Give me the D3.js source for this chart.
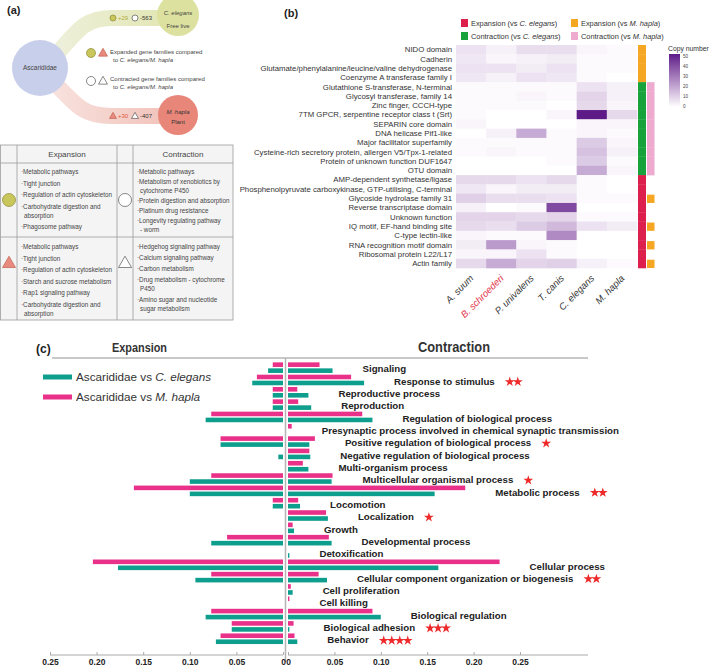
<!DOCTYPE html>
<html lang="en">
<head>
<meta charset="UTF-8">
<title>Gene family expansion and contraction</title>
<script src="https://cdn.jsdelivr.net/npm/d3@7"></script>
<style>
    * { margin: 0; padding: 0; }
    body { background: #fff; }
    text { font-family: "Liberation Sans", Arial, sans-serif; }
</style>
</head>
<body>
<div id="chart"></div>
<script>
// ---------- panel (a) data ----------
const ceExpandedCount = 29;
const ceContractedCount = 563;
const mhExpandedCount = 30;
const mhContractedCount = 407;

const expCircleTerms = ['·Metabolic pathways', '·Tight junction', '·Regulation of actin cytoskeleton',
    '·Carbohydrate digestion and', ' absorption', '·Phagosome pathway'];
const conCircleTerms = ['·Metabolic pathways', '·Metabolism of xenobiotics by', ' cytochrome P450',
    '·Protein digestion and absorption', '·Platinum drug resistance', '·Longevity regulating pathway', ' - worm'];
const expTriangleTerms = ['·Metabolic pathways', '·Tight junction', '·Regulation of actin cytoskeleton',
    '·Starch and sucrose metabolism', '·Rap1 signaling pathway', '·Carbohydrate digestion and', ' absorption'];
const conTriangleTerms = ['·Hedgehog signaling pathway', '·Calcium signaling pathway', '·Carbon metabolism',
    '·Drug metabolism - cytochrome', ' P450', '·Amino sugar and nucleotide', ' sugar metabolism'];

// ---------- panel (b) data ----------
const domains = ['NIDO domain', 'Cadherin', 'Glutamate/phenylalanine/leucine/valine dehydrogenase',
    'Coenzyme A transferase family I', 'Glutathione S-transferase, N-terminal', 'Glycosyl transferase, family 14',
    'Zinc finger, CCCH-type', '7TM GPCR, serpentine receptor class t (Srt)', 'SEPARIN core domain',
    'DNA helicase Pif1-like', 'Major facilitator superfamily', 'Cysteine-rich secretory protein, allergen V5/Tpx-1-related',
    'Protein of unknown function DUF1647', 'OTU domain', 'AMP-dependent synthetase/ligase',
    'Phosphenolpyruvate carboxykinase, GTP-utilising, C-terminal', 'Glycoside hydrolase family 31',
    'Reverse transcriptase domain', 'Unknown function', 'IQ motif, EF-hand binding site', 'C-type lectin-like',
    'RNA recognition motif domain', 'Ribosomal protein L22/L17', 'Actin family'];
const species = ['A. suum', 'B. schroederi', 'P. univalens', 'T. canis', 'C. elegans', 'M. hapla'];
// copy number per domain, in species order
const copyNumber = [
    [6, 3, 7, 7, 2, 1],
    [5, 2, 3, 4, 1, 1],
    [6, 6, 4, 6, 1, 1],
    [5, 3, 6, 5, 1, 0],
    [1, 1, 1, 1, 6, 3],
    [1, 1, 2, 1, 9, 3],
    [1, 1, 1, 0, 8, 2],
    [1, 0, 0, 2, 50, 8],
    [2, 0, 0, 0, 2, 2],
    [0, 3, 18, 1, 2, 1],
    [1, 1, 1, 1, 11, 2],
    [1, 2, 1, 1, 13, 3],
    [0, 0, 0, 1, 11, 1],
    [0, 0, 0, 0, 18, 2],
    [8, 8, 6, 8, 1, 0],
    [5, 2, 4, 4, 1, 0],
    [10, 7, 7, 6, 1, 1],
    [3, 0, 1, 40, 0, 0],
    [9, 9, 8, 9, 1, 1],
    [8, 7, 11, 15, 6, 4],
    [2, 1, 1, 25, 0, 0],
    [4, 22, 2, 1, 0, 0],
    [2, 2, 6, 1, 0, 0],
    [8, 18, 9, 10, 3, 1]
];
const annotFirst = ['expM', 'expM', 'expM', 'expM', 'conC', 'conC', 'conC', 'conC', 'conC', 'conC', 'conC', 'conC',
    'conC', 'conC', 'expC', 'expC', 'expC', 'expC', 'expC', 'expC', 'expC', 'expC', 'expC', 'expC'];
const annotSecond = ['', '', '', '', 'conM', 'conM', 'conM', 'conM', 'conM', 'conM', 'conM', 'conM',
    'conM', 'conM', '', '', 'expM', '', '', 'expM', '', 'expM', '', 'expM'];
const annotKeys = ['expC', 'conC', 'expM', 'conM'];
const annotNames = [['Expansion (vs ', 'C. elegans', ')'], ['Contraction (vs ', 'C. elegans', ')'],
    ['Expansion (vs ', 'M. hapla', ')'], ['Contraction (vs ', 'M. hapla', ')']];
const copyTicks = [0, 10, 20, 30, 40, 50];

// ---------- panel (c) data ----------
const goTerms = ['Signaling', 'Response to stimulus', 'Reproductive process', 'Reproduction',
    'Regulation of biological process', 'Presynaptic process involved in chemical synaptic transmission',
    'Positive regulation of biological process', 'Negative regulation of biological process',
    'Multi-organism process', 'Multicellular organismal process', 'Metabolic process', 'Locomotion',
    'Localization', 'Growth', 'Developmental process', 'Detoxification', 'Cellular process',
    'Cellular component organization or biogenesis', 'Cell proliferation', 'Cell killing',
    'Biological regulation', 'Biological adhesion', 'Behavior'];
const mhExpansion = [0.011, 0.028, 0.011, 0.011, 0.077, 0, 0.067, 0, 0, 0.077, 0.160, 0.011, 0, 0, 0.060, 0,
    0.204, 0.077, 0, 0, 0.077, 0.055, 0.067];
const ceExpansion = [0.016, 0.033, 0.011, 0.011, 0.083, 0, 0.067, 0.005, 0, 0.100, 0.100, 0.011, 0, 0, 0.077, 0,
    0.177, 0.094, 0, 0, 0.083, 0.055, 0.072];
const mhContraction = [0.034, 0.068, 0.010, 0.011, 0.080, 0.004, 0.029, 0.023, 0.016, 0.048, 0.191, 0.011, 0.041,
    0.005, 0.044, 0, 0.228, 0.033, 0.003, 0.0015, 0.091, 0.006, 0.007];
const ceContraction = [0.048, 0.082, 0.022, 0.025, 0.091, 0, 0.023, 0.024, 0.022, 0.047, 0.158, 0.013, 0.043,
    0.0065, 0.047, 0.0015, 0.162, 0.042, 0.005, 0, 0.100, 0.0015, 0.010];
const starCounts = [0, 2, 0, 0, 0, 0, 1, 0, 0, 1, 2, 0, 1, 0, 0, 0, 0, 2, 0, 0, 0, 3, 4];
const axisTicks = [0, 0.05, 0.10, 0.15, 0.20, 0.25];

const pink = '#e9318a';
const teal = '#0e9e8e';
const annotColor = { expC: '#dc1f4c', conC: '#18a23c', expM: '#f5a623', conM: '#eeaacf' };

const svg = d3.select('#chart').append('svg')
    .attr('width', 709)
    .attr('height', 667);
const defs = svg.append('defs');

// ================= panel (a) =================
const pa = svg.append('g');
pa.append('text').attr('x', 7).attr('y', 14).text('(a)')
    .attr('font-size', '11px').attr('font-weight', 'bold').attr('fill', '#222');

function ribbonGradient(id, c0, c1) {
    const g = defs.append('linearGradient').attr('id', id).attr('x1', 0).attr('x2', 1).attr('y1', 0).attr('y2', 0);
    g.append('stop').attr('offset', 0).attr('stop-color', c0);
    g.append('stop').attr('offset', 1).attr('stop-color', c1);
}
ribbonGradient('ribGreen', '#eef0dc', '#e2e6b2');
ribbonGradient('ribPink', '#f8e2de', '#f1c2b9');

pa.append('path').attr('d', 'M50,62 C78,30 84,18 112,18 L172,18')
    .attr('fill', 'none').attr('stroke', 'url(#ribGreen)').attr('stroke-width', 16);
pa.append('path').attr('d', 'M50,78 C78,108 84,116 112,116 L172,116')
    .attr('fill', 'none').attr('stroke', 'url(#ribPink)').attr('stroke-width', 16);

pa.append('circle').attr('cx', 40).attr('cy', 68).attr('r', 28).attr('fill', '#c8cfea');
pa.append('text').attr('x', 40).attr('y', 70).attr('text-anchor', 'middle')
    .attr('font-size', '6.5px').attr('fill', '#444').text('Ascarididae');

pa.append('circle').attr('cx', 178).attr('cy', 15).attr('r', 21).attr('fill', '#dde1a0');
pa.append('text').attr('x', 178).attr('y', 15).attr('text-anchor', 'middle')
    .attr('font-size', '6px').attr('font-style', 'italic').attr('fill', '#444').text('C. elegans');
pa.append('text').attr('x', 178).attr('y', 28).attr('text-anchor', 'middle')
    .attr('font-size', '6px').attr('fill', '#444').text('Free live');

pa.append('circle').attr('cx', 178).attr('cy', 115).attr('r', 20).attr('fill', '#e8867a');
pa.append('text').attr('x', 178).attr('y', 114).attr('text-anchor', 'middle')
    .attr('font-size', '6px').attr('font-style', 'italic').attr('fill', '#333').text('M. hapla');
pa.append('text').attr('x', 178).attr('y', 124).attr('text-anchor', 'middle')
    .attr('font-size', '6px').attr('fill', '#333').text('Plant');

function drawCircle(g, cx, cy, r, filled) {
    g.append('circle').attr('cx', cx).attr('cy', cy).attr('r', r)
        .attr('fill', filled ? '#c9c65c' : '#fff')
        .attr('stroke', filled ? '#8d8a34' : '#555').attr('stroke-width', 0.7);
}
function drawTriangle(g, cx, cy, s, filled) {
    const h = s * 0.87;
    g.append('path')
        .attr('d', `M${cx},${cy - h * 0.6}L${cx + s / 2},${cy + h * 0.4}L${cx - s / 2},${cy + h * 0.4}Z`)
        .attr('fill', filled ? '#e88a7e' : '#fff')
        .attr('stroke', filled ? '#c0624f' : '#555').attr('stroke-width', 0.7);
}

drawCircle(pa, 113, 18, 3, true);
pa.append('text').attr('x', 118).attr('y', 20).attr('font-size', '6px').attr('fill', '#b0ad3a').text('+' + ceExpandedCount);
drawCircle(pa, 135, 18, 3, false);
pa.append('text').attr('x', 140).attr('y', 20).attr('font-size', '6px').attr('fill', '#333').text('-' + ceContractedCount);

drawTriangle(pa, 113, 116, 7, true);
pa.append('text').attr('x', 118).attr('y', 118).attr('font-size', '6px').attr('fill', '#e4553f').text('+' + mhExpandedCount);
drawTriangle(pa, 135, 116, 7, false);
pa.append('text').attr('x', 140).attr('y', 118).attr('font-size', '6px').attr('fill', '#333').text('-' + mhContractedCount);

drawCircle(pa, 91, 53, 4.5, true);
drawTriangle(pa, 103, 53, 9, true);
pa.append('text').attr('x', 110).attr('y', 54).attr('font-size', '6px').attr('fill', '#444').text('Expanded gene families compared');
pa.append('text').attr('x', 113).attr('y', 62).attr('font-size', '6px').attr('fill', '#444')
    .call(t => { t.append('tspan').text('to '); t.append('tspan').attr('font-style', 'italic').text('C. elegans/M. hapla'); });

drawCircle(pa, 91, 81, 4.5, false);
drawTriangle(pa, 103, 81, 9, false);
pa.append('text').attr('x', 110).attr('y', 81).attr('font-size', '6px').attr('fill', '#444').text('Contracted gene families compared');
pa.append('text').attr('x', 113).attr('y', 89).attr('font-size', '6px').attr('fill', '#444')
    .call(t => { t.append('tspan').text('to '); t.append('tspan').attr('font-style', 'italic').text('C. elegans/M. hapla'); });

// table
const tb = pa.append('g');
tb.append('rect').attr('x', 0.5).attr('y', 145).attr('width', 232.5).attr('height', 175)
    .attr('fill', '#f4f4f4').attr('stroke', '#9c9c9c').attr('stroke-width', 0.8);
[17, 117, 133].forEach(x => tb.append('line').attr('x1', x).attr('x2', x).attr('y1', 145).attr('y2', 320)
    .attr('stroke', '#9c9c9c').attr('stroke-width', 0.8));
[163, 237].forEach(y => tb.append('line').attr('x1', 0.5).attr('x2', 233).attr('y1', y).attr('y2', y)
    .attr('stroke', '#9c9c9c').attr('stroke-width', 0.8));
tb.append('text').attr('x', 67).attr('y', 157).attr('text-anchor', 'middle').attr('font-size', '8px').attr('fill', '#444').text('Expansion');
tb.append('text').attr('x', 183).attr('y', 157).attr('text-anchor', 'middle').attr('font-size', '8px').attr('fill', '#444').text('Contraction');

drawCircle(tb, 9, 200, 6.5, true);
drawCircle(tb, 125, 200, 6.5, false);
drawTriangle(tb, 9, 263, 13, true);
drawTriangle(tb, 125, 263, 13, false);

function termList(lines, x, y0, bulletStep, contStep) {
    let y = y0;
    lines.forEach((line, i) => {
        if (i > 0) y += line.startsWith(' ') ? contStep : bulletStep;
        tb.append('text').attr('x', line.startsWith(' ') ? x + 3 : x).attr('y', y).attr('dy', '0.35em')
            .attr('font-size', '6.3px').attr('fill', '#444').text(line.trim());
    });
}
termList(expCircleTerms, 21, 172, 11.5, 9);
termList(conCircleTerms, 137, 172, 10, 9);
termList(expTriangleTerms, 21, 247, 11.5, 9);
termList(conTriangleTerms, 137, 247, 11, 9);

// ================= panel (b) =================
const pb = svg.append('g');
pb.append('text').attr('x', 284).attr('y', 17).text('(b)')
    .attr('font-size', '11px').attr('font-weight', 'bold').attr('fill', '#222');

const hx = d3.scaleBand().domain(species).range([456, 637]);
const hy = d3.scaleBand().domain(domains).range([45, 268]);
const heatColor = d3.scaleLinear().domain([0, 50]).range(['#ffffff', '#5e1b88']).interpolate(d3.interpolateLab);

domains.forEach((dom, r) => {
    species.forEach((sp, c) => {
        pb.append('rect')
            .attr('x', hx(sp)).attr('y', hy(dom))
            .attr('width', hx.bandwidth() + 0.3).attr('height', hy.bandwidth() + 0.3)
            .attr('fill', heatColor(copyNumber[r][c]));
    });
});

pb.selectAll('.rowlab').data(domains).enter().append('text')
    .attr('x', 452).attr('y', d => hy(d) + hy.bandwidth() / 2).attr('dy', '0.35em')
    .attr('text-anchor', 'end').attr('font-size', '7.8px').attr('fill', '#333').text(d => d);

pb.selectAll('.collab').data(species).enter().append('text')
    .attr('text-anchor', 'end')
    .attr('transform', d => `translate(${hx(d) + hx.bandwidth() / 2 + 3},279) rotate(-45)`)
    .attr('font-size', '9.5px').attr('font-style', 'italic')
    .attr('fill', d => d === 'B. schroederi' ? '#e2344b' : '#333').text(d => d);

// side annotation bars
domains.forEach((dom, r) => {
    if (annotFirst[r]) pb.append('rect').attr('x', 638).attr('y', hy(dom)).attr('width', 8)
        .attr('height', hy.bandwidth() + 0.3).attr('fill', annotColor[annotFirst[r]]);
    if (annotSecond[r]) pb.append('rect').attr('x', 647).attr('y', hy(dom) + (annotSecond[r] === 'expM' ? 1 : 0)).attr('width', 7.5)
        .attr('height', hy.bandwidth() + (annotSecond[r] === 'expM' ? -1 : 0.3)).attr('fill', annotColor[annotSecond[r]]);
});

// annotation legend
annotKeys.forEach((k, i) => {
    const lx = i < 2 ? 461 : 571;
    const ly = i % 2 === 0 ? 19 : 32;
    pb.append('rect').attr('x', lx).attr('y', ly).attr('width', 7).attr('height', 8).attr('fill', annotColor[k]);
    const t = pb.append('text').attr('x', lx + 10).attr('y', ly + 4).attr('dy', '0.35em')
        .attr('font-size', '7.4px').attr('fill', '#333');
    t.append('tspan').text(annotNames[i][0]);
    t.append('tspan').attr('font-style', 'italic').text(annotNames[i][1]);
    t.append('tspan').text(annotNames[i][2]);
});

// copy number legend
pb.append('text').attr('x', 668).attr('y', 51).attr('font-size', '6.8px').attr('fill', '#333').text('Copy number');
const cg = defs.append('linearGradient').attr('id', 'copyGrad').attr('x1', 0).attr('x2', 0).attr('y1', 1).attr('y2', 0);
copyTicks.forEach(v => cg.append('stop').attr('offset', v / 50).attr('stop-color', heatColor(v)));
const cy = d3.scaleLinear().domain([0, 50]).range([106, 56]);
pb.append('rect').attr('x', 669).attr('y', 54).attr('width', 11).attr('height', 53).attr('fill', 'url(#copyGrad)');
pb.selectAll('.ctick').data(copyTicks).enter().append('text')
    .attr('x', 683).attr('y', d => cy(d)).attr('dy', '0.35em')
    .attr('font-size', '4.5px').attr('fill', '#444').text(d => d);

// ================= panel (c) =================
const pc = svg.append('g');
pc.append('text').attr('x', 36).attr('y', 353).text('(c)')
    .attr('font-size', '12px').attr('font-weight', 'bold').attr('fill', '#222');
pc.append('text').attr('x', 112).attr('y', 352).text('Expansion')
    .attr('font-size', '13px').attr('font-weight', 'bold').attr('fill', '#333')
    .attr('textLength', 55).attr('lengthAdjust', 'spacingAndGlyphs');
pc.append('text').attr('x', 418).attr('y', 352).text('Contraction')
    .attr('font-size', '14px').attr('font-weight', 'bold').attr('fill', '#333')
    .attr('textLength', 72).attr('lengthAdjust', 'spacingAndGlyphs');
pc.append('line').attr('x1', 52).attr('x2', 588).attr('y1', 358).attr('y2', 358)
    .attr('stroke', '#c8c8c8').attr('stroke-width', 2);

const xL = d3.scaleLinear().domain([0, 0.25]).range([283, 50]);
const xR = d3.scaleLinear().domain([0, 0.25]).range([288, 520]);
const yB = d3.scaleBand().domain(goTerms).range([361.8, 645.2]);
const step = yB.bandwidth();

// center line
pc.append('line').attr('x1', 285.5).attr('x2', 285.5).attr('y1', 358).attr('y2', 662)
    .attr('stroke', '#b4b4b4').attr('stroke-width', 1.5);

const rows = goTerms.map((t, i) => ({
    term: t, cy: yB(t) + step / 2,
    mhL: mhExpansion[i], ceL: ceExpansion[i], mhR: mhContraction[i], ceR: ceContraction[i], stars: starCounts[i]
}));

const barH = 4.6;
rows.forEach(d => {
    if (d.mhL > 0) pc.append('rect').attr('x', xL(d.mhL)).attr('y', d.cy - 5.6).attr('width', xL(0) - xL(d.mhL)).attr('height', barH).attr('fill', pink);
    if (d.ceL > 0) pc.append('rect').attr('x', xL(d.ceL)).attr('y', d.cy + 0.4).attr('width', xL(0) - xL(d.ceL)).attr('height', barH).attr('fill', teal);
    if (d.mhR > 0) pc.append('rect').attr('x', xR(0)).attr('y', d.cy - 5.6).attr('width', xR(d.mhR) - xR(0)).attr('height', barH).attr('fill', pink);
    if (d.ceR > 0) pc.append('rect').attr('x', xR(0)).attr('y', d.cy + 0.4).attr('width', xR(d.ceR) - xR(0)).attr('height', barH).attr('fill', teal);

    const lx = xR(Math.max(d.mhR, d.ceR)) + 30;
    const lab = pc.append('text').attr('x', lx).attr('y', d.cy + 1).attr('dy', '0.35em')
        .attr('font-size', '9.7px').attr('font-weight', 'bold').attr('fill', '#222').text(d.term);
    const w = lab.node().getComputedTextLength();
    for (let s = 0; s < d.stars; s++) {
        pc.append('path').attr('d', d3.symbol(d3.symbolStar, 30)())
            .attr('transform', `translate(${lx + w + 15 + s * 8},${d.cy + 1.5})`)
            .attr('fill', '#ee2a2a');
    }
});

// legend
[[teal, 'C. elegans', 377], [pink, 'M. hapla', 397]].forEach(([col, sp, ly]) => {
    pc.append('rect').attr('x', 43).attr('y', ly - 2.5).attr('width', 29).attr('height', 5).attr('fill', col);
    const t = pc.append('text').attr('x', 76).attr('y', ly).attr('dy', '0.35em')
        .attr('font-size', '11.7px').attr('fill', '#333');
    t.append('tspan').text('Ascarididae vs ');
    t.append('tspan').attr('font-style', 'italic').text(sp);
});

// axes
const fmt = d => d === 0 ? '0' : d3.format('.2f')(d);
function styleAxis(g) {
    g.select('.domain').remove();
    g.selectAll('.tick line').attr('stroke', '#aaa');
    g.selectAll('.tick text').attr('font-size', '8.5px').attr('font-weight', 'bold').attr('fill', '#222')
        .attr('font-family', '"Liberation Sans", Arial, sans-serif');
}
pc.append('line').attr('x1', 50).attr('x2', 283).attr('y1', 655).attr('y2', 655).attr('stroke', '#aaa');
pc.append('line').attr('x1', 288).attr('x2', 588).attr('y1', 655).attr('y2', 655).attr('stroke', '#aaa');
pc.append('g').attr('transform', 'translate(0,655)')
    .call(d3.axisBottom(xL).tickValues(axisTicks).tickFormat(fmt).tickSizeInner(-3).tickSizeOuter(0).tickPadding(4))
    .call(styleAxis);
pc.append('g').attr('transform', 'translate(0,655)')
    .call(d3.axisBottom(xR).tickValues(axisTicks).tickFormat(fmt).tickSizeInner(-3).tickSizeOuter(0).tickPadding(4))
    .call(styleAxis);
</script>
</body>
</html>
